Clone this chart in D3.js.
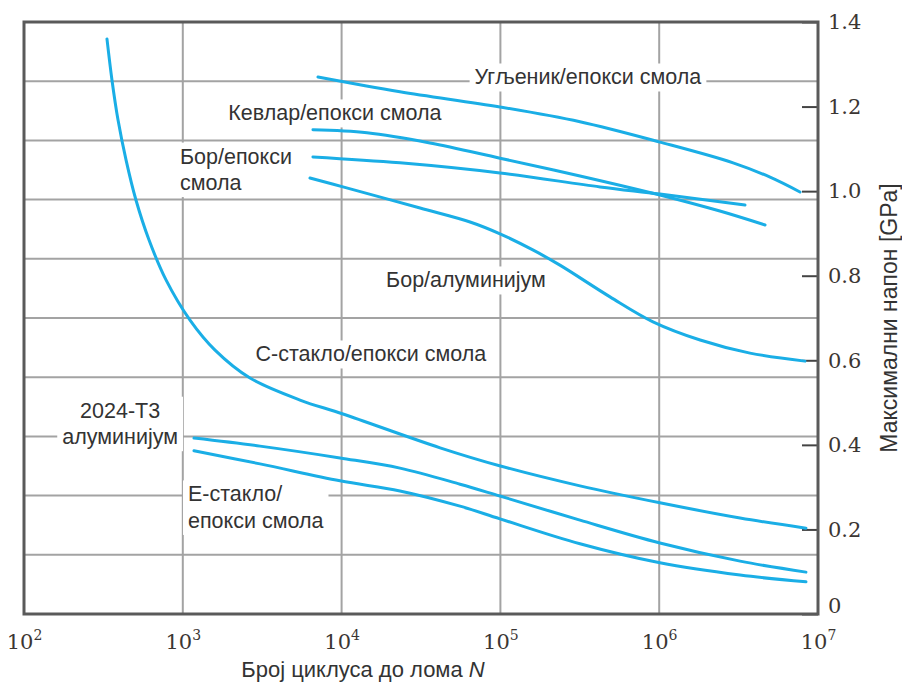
<!DOCTYPE html>
<html>
<head>
<meta charset="utf-8">
<script src="https://cdn.jsdelivr.net/npm/d3@7"></script>
<style>
  body { margin: 0; background: #fff; }
  svg { display: block; }
</style>
</head>
<body>
<div id="chart"></div>
<script>
// cycles to failure N and max stress [GPa]
const carbonN = [7100, 23300, 99400, 317000, 1.01e6, 2.92e6, 4.99e6, 7.7e6];
const carbonS = [1.270, 1.235, 1.199, 1.164, 1.116, 1.067, 1.033, 0.998];

const kevlarN = [6600, 14450, 36000, 99400, 317000, 1.01e6, 2.41e6, 4.64e6];
const kevlarS = [1.145, 1.138, 1.114, 1.078, 1.036, 0.991, 0.953, 0.920];

const boronEpoxyN = [6600, 23300, 99400, 424000, 1.01e6, 3.47e6];
const boronEpoxyS = [1.081, 1.067, 1.043, 1.010, 0.993, 0.967];

const boronAlN = [6320, 10200, 31200, 64400, 99400, 160000, 237000, 490000, 914000, 1.81e6, 3.73e6, 8.28e6];
const boronAlS = [1.031, 1.010, 0.960, 0.927, 0.899, 0.861, 0.825, 0.750, 0.691, 0.648, 0.617, 0.598];

const sGlassN = [333, 358, 391, 439, 507, 612, 784, 1110, 1596, 2650, 5470, 10200, 41700, 100000, 317000, 1.01e6, 3.23e6, 8.4e6];
const sGlassS = [1.360, 1.263, 1.168, 1.074, 0.979, 0.885, 0.790, 0.695, 0.624, 0.558, 0.506, 0.473, 0.393, 0.350, 0.303, 0.263, 0.227, 0.203];

const alN = [1176, 3064, 9770, 23300, 55700, 99400, 317000, 1.01e6, 3.23e6, 8.4e6];
const alS = [0.416, 0.397, 0.369, 0.345, 0.307, 0.279, 0.222, 0.168, 0.125, 0.099];

const eGlassN = [1176, 3064, 9770, 23300, 55700, 99400, 317000, 1.01e6, 3.23e6, 8.4e6];
const eGlassS = [0.386, 0.355, 0.315, 0.291, 0.255, 0.225, 0.166, 0.121, 0.092, 0.076];

const xTicks = [1e2, 1e3, 1e4, 1e5, 1e6, 1e7];
const gpaTicks = [0, 0.2, 0.4, 0.6, 0.8, 1.0, 1.2, 1.4];
const ksiTicks = [0, 20, 40, 60, 80, 100, 120, 140, 160, 180, 200];

const seriesLabels = [
    ['Угљеник/епокси смола'],
    ['Кевлар/епокси смола'],
    ['Бор/епокси', 'смола'],
    ['Бор/алуминијум'],
    ['С-стакло/епокси смола'],
    ['2024-Т3', 'алуминијум'],
    ['Е-стакло/', 'епокси смола']
];

const series = [
    [carbonN, carbonS], [kevlarN, kevlarS], [boronEpoxyN, boronEpoxyS],
    [boronAlN, boronAlS], [sGlassN, sGlassS], [alN, alS], [eGlassN, eGlassS]
];

const margin = { top: 22, right: 84, bottom: 72, left: 24 };
const width = 902 - margin.left - margin.right;
const height = 686 - margin.top - margin.bottom;

const svg = d3.select('#chart')
    .append('svg')
    .attr('width', 902)
    .attr('height', 686);

const g = svg.append('g')
    .attr('transform', `translate(${margin.left},${margin.top})`);

const x = d3.scaleLog().domain([1e2, 1e7]).range([0, width]);
const y = d3.scaleLinear().domain([0, 1.4]).range([height, 0]);
// gridlines follow the (cut off) ksi axis of the original figure
const yKsi = d3.scaleLinear().domain([0, 200]).range([height, 0]);

const lineColor = '#1aaee6';
const gridColor = '#a3a3a3';
const tickFont = '"DejaVu Serif", serif';
const textFont = '"Liberation Sans", Arial, sans-serif';

// grid
g.append('g')
    .selectAll('line')
    .data(ksiTicks.slice(1, -1))
    .enter()
    .append('line')
    .attr('x1', 0)
    .attr('x2', width)
    .attr('y1', d => yKsi(d))
    .attr('y2', d => yKsi(d))
    .attr('stroke', gridColor)
    .attr('stroke-width', 2);

g.append('g')
    .selectAll('line')
    .data(xTicks.slice(1, -1))
    .enter()
    .append('line')
    .attr('x1', d => x(d))
    .attr('x2', d => x(d))
    .attr('y1', 0)
    .attr('y2', height)
    .attr('stroke', gridColor)
    .attr('stroke-width', 2);

// right GPa axis with inward ticks
const yAxis = g.append('g')
    .attr('transform', `translate(${width},0)`)
    .call(d3.axisRight(y).tickValues(gpaTicks).tickSizeInner(-16).tickSizeOuter(0).tickPadding(10)
        .tickFormat(d => d === 0 ? '0' : d3.format('.1f')(d)));
yAxis.select('.domain').remove();
yAxis.selectAll('.tick line').attr('stroke', '#444').attr('stroke-width', 2);
yAxis.selectAll('.tick text')
    .attr('font-family', tickFont)
    .attr('font-size', 21)
    .attr('fill', '#3b3633')
    .attr('dy', d => d === 0 ? '-0.05em' : '0.32em');

// bottom axis, 10^n labels
const xAxis = g.append('g')
    .attr('transform', `translate(0,${height})`)
    .call(d3.axisBottom(x).tickValues(xTicks).tickSize(0).tickPadding(20).tickFormat(''));
xAxis.select('.domain').remove();
xAxis.selectAll('.tick text').each(function (d) {
    const t = d3.select(this)
        .attr('font-family', tickFont)
        .attr('font-size', 21)
        .attr('fill', '#3b3633')
        .attr('text-anchor', 'middle');
    t.append('tspan').text('10');
    t.append('tspan').attr('dy', -9).attr('font-size', 14).text(Math.round(Math.log10(d)));
});

// plot border
g.append('rect')
    .attr('width', width)
    .attr('height', height)
    .attr('fill', 'none')
    .attr('stroke', '#5a5a5a')
    .attr('stroke-width', 3);

// curve labels on white patches
const labelPos = [
    { N: 3.56e5, S: 1.270, anchor: 'middle' },
    { N: 9080, S: 1.185, anchor: 'middle' },
    { N: 960, S: 1.083, anchor: 'start' },
    { N: 60700, S: 0.790, anchor: 'middle' },
    { N: 15300, S: 0.615, anchor: 'middle' },
    { N: 403, S: 0.482, anchor: 'middle' },
    { N: 1078, S: 0.284, anchor: 'start' }
];

const labels = g.append('g');
seriesLabels.forEach((lines, i) => {
    const p = labelPos[i];
    const grp = labels.append('g');
    const bg = grp.append('rect').attr('fill', '#fff');
    const t = grp.append('text')
        .attr('font-family', textFont)
        .attr('font-size', 21.5)
        .attr('fill', '#333')
        .attr('text-anchor', p.anchor);
    lines.forEach((ln, j) => {
        t.append('tspan')
            .attr('x', x(p.N))
            .attr('y', y(p.S) + j * 26.5)
            .attr('dy', '0.35em')
            .text(ln);
    });
    const b = t.node().getBBox();
    bg.attr('x', b.x - 5).attr('y', b.y - 2).attr('width', b.width + 10).attr('height', b.height + 4);
});

// curves
const line = d3.line()
    .x(d => x(d[0]))
    .y(d => y(d[1]))
    .curve(d3.curveCatmullRom.alpha(0.5));

g.append('g')
    .selectAll('path')
    .data(series.map(([n, s]) => n.map((v, i) => [v, s[i]])))
    .enter()
    .append('path')
    .attr('d', line)
    .attr('fill', 'none')
    .attr('stroke', lineColor)
    .attr('stroke-width', 3)
    .attr('stroke-linecap', 'round');

// axis titles
const xTitle = svg.append('text')
    .attr('x', 363)
    .attr('y', 677)
    .attr('text-anchor', 'middle')
    .attr('font-family', textFont)
    .attr('font-size', 22)
    .attr('fill', '#333');
xTitle.append('tspan').text('Број циклуса до лома  ');
xTitle.append('tspan').attr('font-style', 'italic').text('N');

svg.append('text')
    .attr('transform', `translate(889,${margin.top + height / 2}) rotate(-90)`)
    .attr('text-anchor', 'middle')
    .attr('dy', '0.35em')
    .attr('font-family', textFont)
    .attr('font-size', 23)
    .attr('fill', '#333')
    .text('Максимални напон [GPa]');
</script>
</body>
</html>
